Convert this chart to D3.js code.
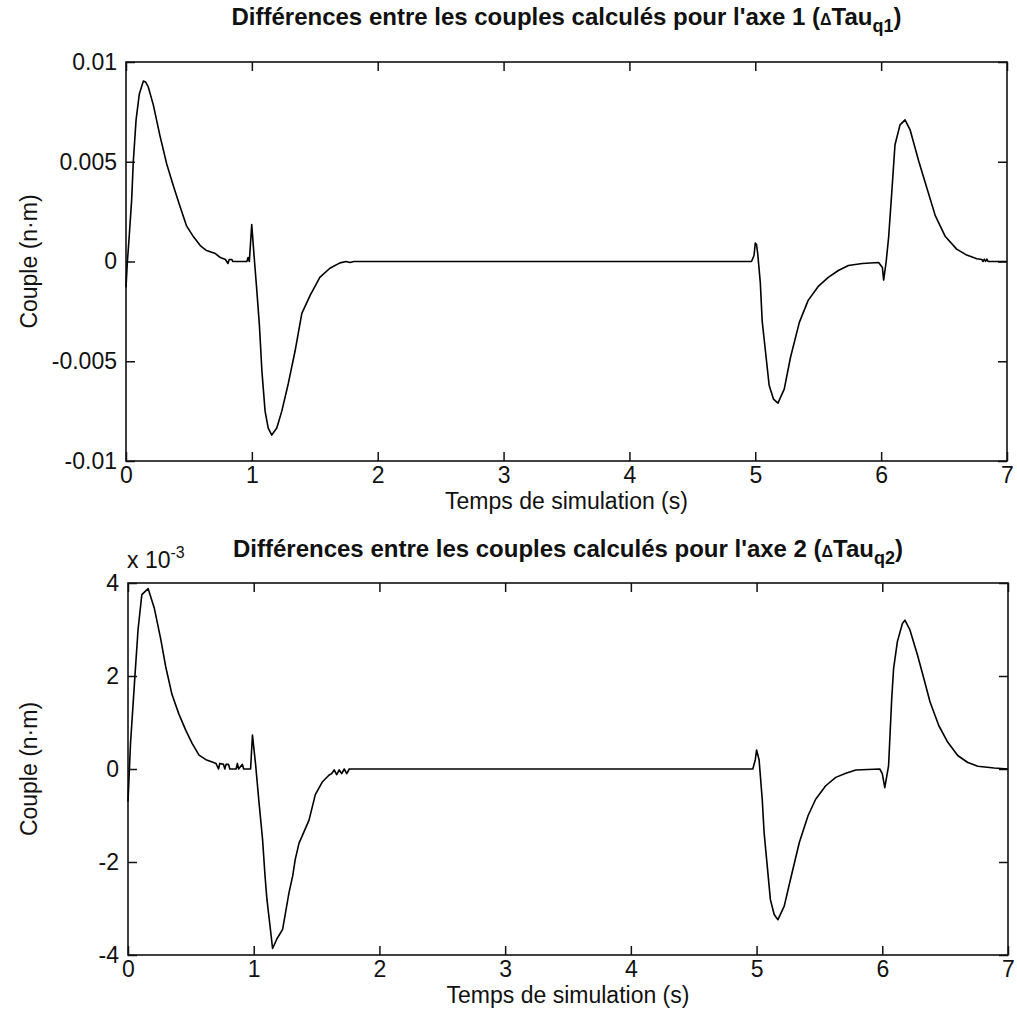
<!DOCTYPE html>
<html>
<head>
<meta charset="utf-8">
<script src="https://cdn.jsdelivr.net/npm/d3@7"></script>
<style>
  body{margin:0;background:#fff;}
  svg text{font-family:"Liberation Sans",Arial,Helvetica,sans-serif;fill:#111;}
</style>
</head>
<body>
<div id="chart"></div>
<script>
// axe 1 : temps (s) et couple (n.m)
var t1=[0,0.01,0.026,0.045,0.058,0.08,0.106,0.138,0.155,0.177,0.217,0.27,0.323,0.376,0.43,0.48,0.535,0.59,0.64,0.71,0.75,0.79,0.81,0.82,0.84,0.85,0.96,0.97,0.98,0.999,1.018,1.04,1.06,1.08,1.105,1.13,1.158,1.198,1.238,1.29,1.343,1.397,1.463,1.54,1.62,1.70,1.75,1.78,1.81,4.97,4.99,5.00,5.01,5.02,5.04,5.055,5.08,5.11,5.145,5.18,5.23,5.28,5.35,5.42,5.50,5.58,5.66,5.74,5.85,5.98,6.01,6.02,6.04,6.06,6.087,6.11,6.15,6.19,6.23,6.30,6.37,6.43,6.51,6.60,6.68,6.76,6.80,6.81,6.82,6.83,6.84,6.85,7.00];
var v1=[-0.0013,-0.0001,0.0013,0.0031,0.0050,0.0071,0.0084,0.00905,0.0090,0.00875,0.00785,0.0063,0.0049,0.0038,0.00275,0.0018,0.00125,0.0008,0.00055,0.0004,0.0002,0.0001,-0.0001,0.0001,0.0001,0,0,0.0002,0,0.00185,0.00025,-0.0015,-0.0032,-0.0055,-0.0075,-0.00835,-0.0087,-0.00835,-0.0075,-0.0061,-0.0045,-0.0026,-0.0017,-0.0008,-0.00034,-0.00007,0,-0.00005,0,0,0.0003,0.00092,0.00085,0.00035,-0.00107,-0.0030,-0.00445,-0.0062,-0.0069,-0.0071,-0.0064,-0.0048,-0.00305,-0.00195,-0.00125,-0.0008,-0.00045,-0.0002,-0.0001,-0.00005,-0.0003,-0.00093,0,0.00125,0.0037,0.00585,0.00685,0.0071,0.0066,0.0050,0.00355,0.0023,0.00125,0.00062,0.00032,0.00014,0.0001,0,0.00012,0,0.00012,0,0];

// axe 2 : temps (s) et couple (x 10^-3 n.m)
var t2=[0,0.02,0.06,0.08,0.11,0.16,0.21,0.26,0.30,0.35,0.405,0.46,0.51,0.565,0.62,0.67,0.70,0.72,0.73,0.76,0.77,0.78,0.80,0.81,0.86,0.87,0.88,0.91,0.92,0.975,0.99,1.015,1.04,1.07,1.09,1.105,1.135,1.15,1.185,1.23,1.28,1.31,1.33,1.36,1.44,1.49,1.545,1.60,1.62,1.64,1.66,1.68,1.70,1.72,1.74,1.76,4.97,4.99,5.00,5.02,5.045,5.06,5.085,5.11,5.14,5.17,5.22,5.27,5.34,5.41,5.47,5.55,5.63,5.71,5.79,5.98,6.00,6.02,6.05,6.075,6.09,6.12,6.16,6.18,6.22,6.28,6.33,6.38,6.45,6.52,6.60,6.68,6.76,6.89,7.00];
var v2=[-0.7,0.55,2.2,3.0,3.75,3.88,3.45,2.8,2.2,1.6,1.18,0.83,0.55,0.3,0.2,0.15,0.12,0,0.12,0.1,0,0.1,0.1,0,0,0.12,0,0.1,0,0,0.73,0.1,-0.66,-1.5,-2.3,-2.8,-3.5,-3.86,-3.65,-3.45,-2.67,-2.3,-1.95,-1.6,-1.1,-0.55,-0.28,-0.13,-0.1,-0.02,-0.12,-0.02,-0.1,0,-0.1,0,0,0.2,0.41,0.2,-0.65,-1.37,-2.09,-2.81,-3.13,-3.24,-2.95,-2.37,-1.58,-1.0,-0.65,-0.36,-0.18,-0.09,-0.02,0,-0.1,-0.4,0.07,1.51,2.16,2.74,3.13,3.2,2.99,2.45,1.95,1.44,0.93,0.58,0.29,0.14,0.06,0.02,0];

var xTicks=[0,1,2,3,4,5,6,7];
var xTickLabels=['0','1','2','3','4','5','6','7'];
var yTicks1=[-0.01,-0.005,0,0.005,0.01];
var yTickLabels1=['-0.01','-0.005','0','0.005','0.01'];
var yTicks2=[-4,-2,0,2,4];
var yTickLabels2=['-4','-2','0','2','4'];

var width=1017, height=1022;
var svg=d3.select('#chart').append('svg')
  .attr('width',width)
  .attr('height',height);

function drawPanel(box,times,values,yDomain,yTicks,yLabels,axeNum,titleY){
  var x=d3.scaleLinear().domain([0,7]).range([box.left,box.right]);
  var y=d3.scaleLinear().domain(yDomain).range([box.bottom,box.top]);
  var g=svg.append('g');
  var tk=9;

  // ticks (inside, all four sides)
  g.append('g').attr('transform','translate(0,'+box.bottom+')')
    .call(d3.axisBottom(x).tickValues(xTicks).tickSize(-tk).tickPadding(6)
      .tickFormat(function(d,i){return xTickLabels[i];}));
  g.append('g').attr('transform','translate(0,'+box.top+')')
    .call(d3.axisTop(x).tickValues(xTicks).tickSize(-tk).tickFormat(''));
  g.append('g').attr('transform','translate('+box.left+',0)')
    .call(d3.axisLeft(y).tickValues(yTicks).tickSize(-tk).tickPadding(9)
      .tickFormat(function(d,i){return yLabels[i];}));
  g.append('g').attr('transform','translate('+box.right+',0)')
    .call(d3.axisRight(y).tickValues(yTicks).tickSize(-tk).tickFormat(''));
  g.selectAll('.domain').remove();
  g.selectAll('.tick line').attr('stroke','#111').attr('stroke-width',1.5);
  g.selectAll('.tick text').style('font-size','23px').attr('fill','#111');

  g.append('rect')
    .attr('x',box.left).attr('y',box.top)
    .attr('width',box.right-box.left).attr('height',box.bottom-box.top)
    .attr('fill','none').attr('stroke','#111').attr('stroke-width',1.6);

  var pts=times.map(function(t,i){return [t,values[i]];});
  var line=d3.line().x(function(d){return x(d[0]);}).y(function(d){return y(d[1]);});
  g.append('path').datum(pts)
    .attr('d',line)
    .attr('fill','none')
    .attr('stroke','#000')
    .attr('stroke-width',1.6)
    .attr('stroke-linejoin','round');

  var cx=(box.left+box.right)/2;
  var title=g.append('text').attr('x',cx).attr('y',titleY)
    .attr('text-anchor','middle')
    .style('font-size','24px').style('font-weight','bold');
  title.append('tspan').text("Différences entre les couples calculés pour l'axe "+axeNum+" (");
  title.append('tspan').text('Δ').style('font-size','16px');
  title.append('tspan').text('Tau');
  title.append('tspan').text('q'+axeNum).style('font-size','18px').attr('dy',7);
  title.append('tspan').text(')').attr('dy',-7);

  g.append('text').attr('x',cx).attr('y',box.bottom+48)
    .attr('text-anchor','middle').style('font-size','23px')
    .text('Temps de simulation (s)');

  g.append('text')
    .attr('transform','translate(37,'+((box.top+box.bottom)/2)+') rotate(-90)')
    .attr('text-anchor','middle').style('font-size','23px')
    .text('Couple (n·m)');
  return g;
}

drawPanel({left:126,right:1007,top:62,bottom:461},t1,v1,[-0.01,0.01],yTicks1,yTickLabels1,1,25);
var g2=drawPanel({left:128,right:1008,top:583,bottom:955},t2,v2,[-4,4],yTicks2,yTickLabels2,2,557);

var ex=g2.append('text').attr('x',127).attr('y',568).style('font-size','23px');
ex.append('tspan').text('x 10');
ex.append('tspan').text('-3').style('font-size','16px').attr('dy',-10);
</script>
</body>
</html>
